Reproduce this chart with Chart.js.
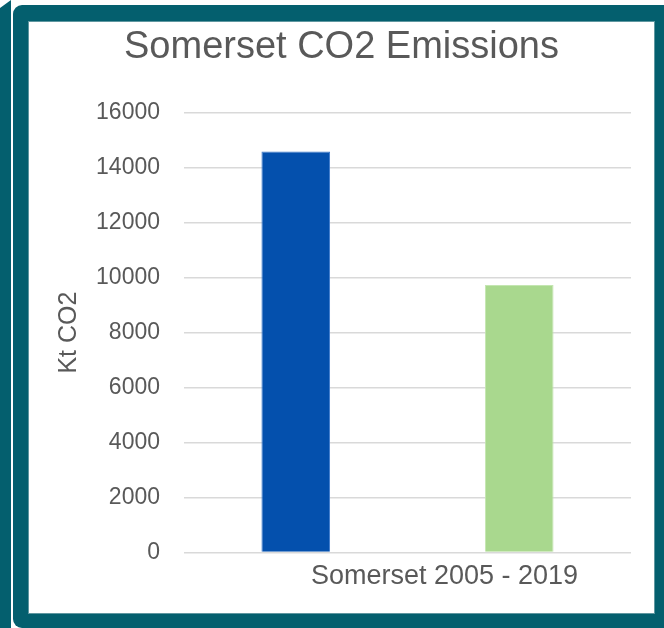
<!DOCTYPE html>
<html>
<head>
<meta charset="utf-8">
<script src="https://cdn.jsdelivr.net/npm/chart.js@4"></script>
<style>
  body { margin: 0; width: 664px; height: 628px; background: #fff; position: relative; overflow: hidden; }
  #strip { position: absolute; left: 0; top: 0; width: 11px; height: 628px; background: #045f6e;
           clip-path: polygon(0 8px, 11px 0, 11px 100%, 0 100%); }
  #frame { position: absolute; left: 13px; top: 5px; right: 0; bottom: 0; background: #045f6e;
           border-radius: 9px 0 0 9px; }
  #inner { position: absolute; left: 29px; top: 22px; width: 625px; height: 591px; background: #fff;
           box-shadow: 0 0 0 1px #5f97a0; }
</style>
</head>
<body>
<div id="strip"></div>
<div id="frame"></div>
<div id="inner"><canvas id="myChart" width="625" height="591"></canvas></div>
<script>
// chart values
const categories = ['Somerset 2005 - 2019'];
const seriesNames = ['2005', '2019'];
const values2005 = [14590];
const values2019 = [9730];
const yMin = 0, yMax = 16000, yStep = 2000;

const textGrey = '#595959';
const font = 'Liberation Sans, Arial, sans-serif';

const ctx = document.getElementById('myChart');

new Chart(ctx, {
  type: 'bar',
  data: {
    labels: categories,
    datasets: [{
      label: seriesNames[0],
      data: values2005,
      backgroundColor: '#0450ad',
      borderColor: '#3f7bcc',
      borderWidth: 1
    }, {
      label: seriesNames[1],
      data: values2019,
      backgroundColor: '#a9d88e',
      borderColor: '#c4e6b1',
      borderWidth: 1
    }]
  },
  options: {
    responsive: false,
    animation: false,
    categoryPercentage: 1.0,
    barPercentage: 0.307,
    layout: { padding: { left: 0, right: 0, top: 0, bottom: 20 } },
    plugins: {
      legend: { display: false },
      tooltip: { enabled: false },
      title: {
        display: true,
        text: 'Somerset CO2 Emissions',
        color: textGrey,
        font: { family: font, size: 38, weight: 'normal' },
        padding: { top: 3, bottom: 42 }
      }
    },
    scales: {
      x: {
        grid: { display: false },
        border: { display: false },
        ticks: {
          color: textGrey,
          font: { family: font, size: 27 },
          padding: 0,
          labelOffset: 37,
          maxRotation: 0
        }
      },
      y: {
        min: yMin,
        max: yMax,
        grid: { color: '#d9d9d9', lineWidth: 1.5, drawTicks: false },
        border: { display: false },
        ticks: {
          stepSize: yStep,
          color: textGrey,
          font: { family: font, size: 23 },
          padding: 24,
          callback: function(value) { return String(value); } // no thousands comma
        },
        title: {
          display: true,
          text: 'Kt CO2',
          color: textGrey,
          font: { family: font, size: 25 },
          padding: { top: 25, bottom: 12 }
        },
        afterFit: function(scale) { scale.width = 155; }
      },
      // empty right axis, only keeps space so the title stays centred on the whole card
      yRight: {
        position: 'right',
        grid: { display: false },
        border: { display: false },
        ticks: { display: false },
        afterFit: function(scale) { scale.width = 23; }
      }
    }
  }
});
</script>
</body>
</html>
